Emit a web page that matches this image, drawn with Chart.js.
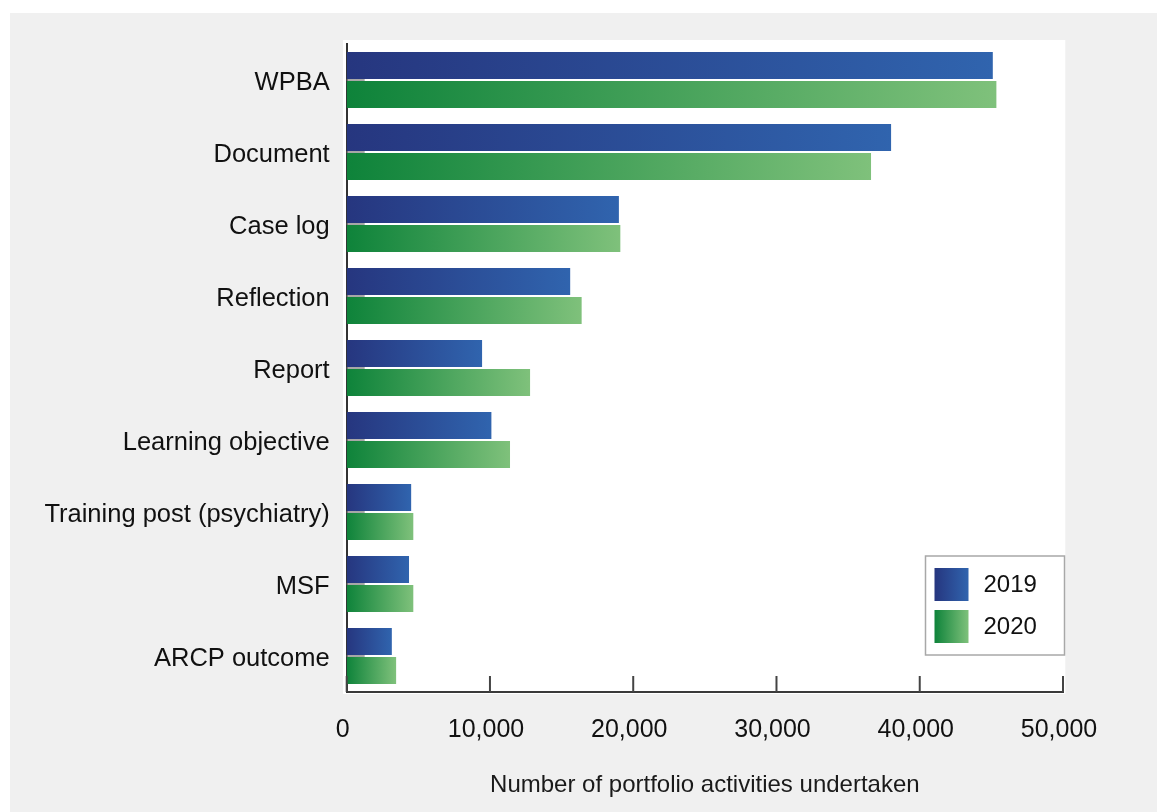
<!DOCTYPE html>
<html>
<head>
<meta charset="utf-8">
<script src="https://cdn.jsdelivr.net/npm/chart.js@4/dist/chart.umd.min.js"></script>
<style>
  html, body { margin: 0; padding: 0; background: #ffffff; }
  #c { display: block; }
</style>
</head>
<body>
<canvas id="c" width="1157" height="812" style="width:1157px;height:812px"></canvas>
<script>
const categories = ['WPBA', 'Document', 'Case log', 'Reflection', 'Report', 'Learning objective', 'Training post (psychiatry)', 'MSF', 'ARCP outcome'];
const seriesLabels = ['2019', '2020'];
const values2019 = [45100, 38000, 19000, 15600, 9450, 10100, 4500, 4350, 3150];
const values2020 = [45350, 36600, 19100, 16400, 12800, 11400, 4650, 4650, 3450];
const xMin = 0, xMax = 50000, xStep = 10000;
const axisTitle = 'Number of portfolio activities undertaken';

const FONT = '"Liberation Sans", Arial, Helvetica, sans-serif';
const blueStops = ['#26367f', '#3064ae'];
const greenStops = ['#0e833a', '#7fc17b'];

function barGradient(stops) {
  return function (ctx) {
    const chart = ctx.chart;
    if (ctx.type !== 'data' || !chart.chartArea || !chart.scales.x) return stops[1];
    const xs = chart.scales.x;
    const x0 = xs.getPixelForValue(0);
    const x1 = xs.getPixelForValue(ctx.raw);
    if (!isFinite(x0) || !isFinite(x1) || x1 - x0 < 1) return stops[0];
    const g = chart.ctx.createLinearGradient(x0, 0, x1, 0);
    g.addColorStop(0, stops[0]);
    g.addColorStop(1, stops[1]);
    return g;
  };
}

const backgroundPlugin = {
  id: 'bgPanel',
  beforeDraw(chart) {
    const { ctx, chartArea: ca } = chart;
    ctx.save();
    ctx.fillStyle = '#f0f0f0';
    ctx.fillRect(10, 13, chart.width - 10, chart.height - 13);
    ctx.fillStyle = '#ffffff';
    ctx.fillRect(ca.left - 3.7, ca.top - 4, (ca.right + 2.3) - (ca.left - 3.7), (ca.bottom + 2) - (ca.top - 4));
    ctx.restore();
  }
};

const tickMarksPlugin = {
  id: 'innerTicks',
  afterDatasetsDraw(chart) {
    const { ctx, chartArea: ca } = chart;
    const xs = chart.scales.x, ys = chart.scales.y;
    ctx.save();
    // inward category ticks on the y axis
    ctx.strokeStyle = '#8a8a8a';
    ctx.lineWidth = 1.5;
    ys.ticks.forEach((t, i) => {
      const y = ys.getPixelForTick(i);
      ctx.beginPath();
      ctx.moveTo(ca.left, y);
      ctx.lineTo(ca.left + 18, y);
      ctx.stroke();
    });
    // upward ticks on the x axis
    ctx.strokeStyle = '#444444';
    ctx.lineWidth = 2;
    xs.ticks.forEach((t, i) => {
      const x = xs.getPixelForTick(i);
      ctx.beginPath();
      ctx.moveTo(x, ca.bottom - 16);
      ctx.lineTo(x, ca.bottom);
      ctx.stroke();
    });
    ctx.restore();
  }
};

const legendPlugin = {
  id: 'boxLegend',
  afterDraw(chart) {
    const { ctx, chartArea: ca } = chart;
    const w = 139, h = 99;
    const x = ca.right + 1.5 - w;
    const y = ca.bottom - 37 - h;
    ctx.save();
    ctx.fillStyle = '#ffffff';
    ctx.fillRect(x, y, w, h);
    ctx.strokeStyle = '#a8a8a8';
    ctx.lineWidth = 1.5;
    ctx.strokeRect(x, y, w, h);
    const stopsList = [blueStops, greenStops];
    chart.data.datasets.forEach((ds, i) => {
      const bx = x + 9, by = y + 12 + i * 42;
      const g = ctx.createLinearGradient(bx, 0, bx + 34, 0);
      g.addColorStop(0, stopsList[i][0]);
      g.addColorStop(1, stopsList[i][1]);
      ctx.fillStyle = g;
      ctx.fillRect(bx, by, 34, 33);
      ctx.fillStyle = '#111111';
      ctx.font = '24px ' + FONT;
      ctx.textAlign = 'left';
      ctx.textBaseline = 'middle';
      ctx.fillText(ds.label, x + 58, by + 17);
    });
    ctx.restore();
  }
};

new Chart(document.getElementById('c'), {
  type: 'bar',
  data: {
    labels: categories,
    datasets: [
      { label: seriesLabels[0], data: values2019, backgroundColor: barGradient(blueStops), borderWidth: 0 },
      { label: seriesLabels[1], data: values2020, backgroundColor: barGradient(greenStops), borderWidth: 0 }
    ]
  },
  options: {
    indexAxis: 'y',
    responsive: false,
    animation: false,
    devicePixelRatio: 1,
    categoryPercentage: 0.806,
    barPercentage: 0.931,
    layout: { padding: { top: 44, right: 94, left: 0, bottom: 0 } },
    plugins: {
      legend: { display: false },
      tooltip: { enabled: false }
    },
    scales: {
      x: {
        type: 'linear',
        min: xMin,
        max: xMax,
        grid: { display: false, drawTicks: false },
        border: { display: true, color: '#3a3a3a', width: 2 },
        ticks: {
          stepSize: xStep,
          padding: 23,
          labelOffset: -4,
          color: '#111111',
          font: { family: FONT, size: 25 },
          maxRotation: 0
        },
        title: {
          display: true,
          text: axisTitle,
          color: '#1a1a1a',
          font: { family: FONT, size: 24 },
          padding: { top: 0, bottom: 12 }
        },
        afterFit(scale) { scale.height = 120; }
      },
      y: {
        grid: { display: false, drawTicks: false },
        border: { display: true, color: '#333333', width: 2 },
        ticks: {
          padding: 17,
          labelOffset: 3,
          color: '#111111',
          font: { family: FONT, size: 25.5 }
        },
        afterFit(scale) { scale.width = 346.7; }
      }
    }
  },
  plugins: [backgroundPlugin, tickMarksPlugin, legendPlugin]
});
</script>
</body>
</html>
